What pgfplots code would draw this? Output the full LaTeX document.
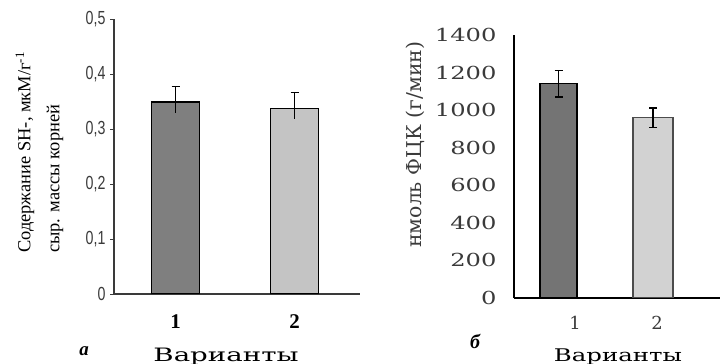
\documentclass[border=0pt]{standalone}
\usepackage{pgfplots}
\pgfplotsset{compat=1.18}
\usepackage{fontspec}
\setmainfont{Liberation Serif}
\newfontfamily\dvs{DejaVu Serif}
\newfontfamily\lsans{Liberation Sans}
\definecolor{barA}{HTML}{7F7F7F}
\definecolor{barB}{HTML}{C4C4C4}
\definecolor{barC}{HTML}{747474}
\definecolor{barD}{HTML}{D2D2D2}
\definecolor{tickgray}{HTML}{3A3A3A}
\begin{document}
\begin{tikzpicture}
\useasboundingbox (0,0) rectangle (720bp,364bp);
% ---------- panel a ----------
\begin{axis}[
  at={(114bp,70bp)}, anchor=south west,
  scale only axis, width=246bp, height=275bp,
  xmin=0, xmax=246, ymin=0, ymax=0.5,
  axis x line=bottom, axis y line=left,
  x axis line style={-, line width=1.2bp, color=tickgray},
  y axis line style={-, line width=1.2bp, color=tickgray},
  xtick={61.5,180.5}, xticklabels={1,2},
  ytick={0,0.1,0.2,0.3,0.4,0.5},
  tick align=outside, major tick length=4bp,
  xtick style={draw=none},
  ytick style={line width=1bp, color=tickgray},
  /pgf/number format/assume math mode=true,
  yticklabel style={font=\lsans\fontsize{19}{19}\selectfont, text=tickgray, anchor=east, xshift=-1bp,
    /pgf/number format/.cd, use comma, fixed, precision=1},
  yticklabel={\scalebox{0.75}[1]{\pgfmathprintnumber{\tick}}},
  xticklabel style={font=\bfseries\fontsize{21}{21}\selectfont, anchor=center, yshift=-24bp},
]
\addplot[ybar, bar width=48, bar shift=0pt, fill=barA, draw=black, line width=1.2bp] coordinates {(61.5,0.349)};
\addplot[ybar, bar width=48, bar shift=0pt, fill=barB, draw=black, line width=1.2bp] coordinates {(180.5,0.338)};
\addplot[draw=none, mark=none, error bars/.cd, y dir=plus, y explicit, error mark=-,
  error mark options={draw=black, line width=1.3bp, mark size=4bp, rotate=90},
  error bar style={draw=black, line width=1.6bp}]
  coordinates {(61.5,0.349) +- (0,0.028) (180.5,0.338) +- (0,0.029)};
\addplot[draw=none, mark=none, error bars/.cd, y dir=minus, y explicit, error mark=none,
  error bar style={draw=black, line width=1.6bp}]
  coordinates {(61.5,0.349) +- (0,0.020) (180.5,0.338) +- (0,0.020)};
\end{axis}
% ---------- panel b ----------
\begin{axis}[
  at={(514bp,66bp)}, anchor=south west,
  scale only axis, width=206bp, height=263bp,
  xmin=0, xmax=206, ymin=0, ymax=1400,
  axis x line=bottom, axis y line=left,
  x axis line style={-, line width=1.3bp, color=black},
  y axis line style={-, line width=1.3bp, color=black},
  xtick={61,143}, xticklabels={1,2},
  ytick={0,200,400,600,800,1000,1200,1400},
  major tick length=0pt,
  /pgf/number format/assume math mode=true,
  yticklabel style={font=\dvs\fontsize{18}{18}\selectfont, text=tickgray, anchor=east, xshift=-14bp,
    /pgf/number format/.cd, 1000 sep={}},
  yticklabel={\scalebox{1.35}[1]{\pgfmathprintnumber{\tick}}},
  xticklabel style={font=\dvs\fontsize{18}{18}\selectfont, text=tickgray, anchor=center, yshift=-25bp},
]
\addplot[ybar, bar width=37, bar shift=0pt, fill=barC, draw=black, line width=1.3bp] coordinates {(44.5,1140)};
\addplot[ybar, bar width=40, bar shift=0pt, fill=barD, draw=black!70, line width=1.3bp] coordinates {(139,960)};
\addplot[draw=none, mark=none, error bars/.cd, y dir=both, y explicit, error mark=-,
  error mark options={draw=black, line width=1.3bp, mark size=4bp, rotate=90},
  error bar style={draw=black, line width=1.6bp}]
  coordinates {(44.5,1140) +- (0,70) (139,960) +- (0,52)};
\end{axis}
% ---------- texts ----------
\node[rotate=90, anchor=west, inner sep=0pt, font=\fontsize{18.5}{18.5}\selectfont] at (25bp,111bp) {Содержание SH-, мкМ/г\textsuperscript{-1}};
\node[rotate=90, anchor=west, inner sep=0pt, font=\fontsize{18.5}{18.5}\selectfont] at (55bp,111bp) {сыр. массы корней};
\node[rotate=90, anchor=west, inner sep=0pt, font=\dvs\fontsize{20.5}{20.5}\selectfont, text=tickgray] at (415bp,116bp) {нмоль ФЦК (г/мин)};
\node[inner sep=0pt, font=\bfseries\itshape\fontsize{19}{19}\selectfont] at (84bp,13bp) {а};
\node[inner sep=0pt, font=\bfseries\itshape\fontsize{20}{20}\selectfont] at (475bp,23bp) {б};
\node[anchor=base, inner sep=0pt, font=\dvs\fontsize{18.5}{18.5}\selectfont] at (226bp,3bp) {\scalebox{1.5}[1]{Варианты}};
\node[anchor=base, inner sep=0pt, font=\dvs\fontsize{17.5}{17.5}\selectfont] at (618bp,3bp) {\scalebox{1.4}[1]{Варианты}};
\end{tikzpicture}
\end{document}
